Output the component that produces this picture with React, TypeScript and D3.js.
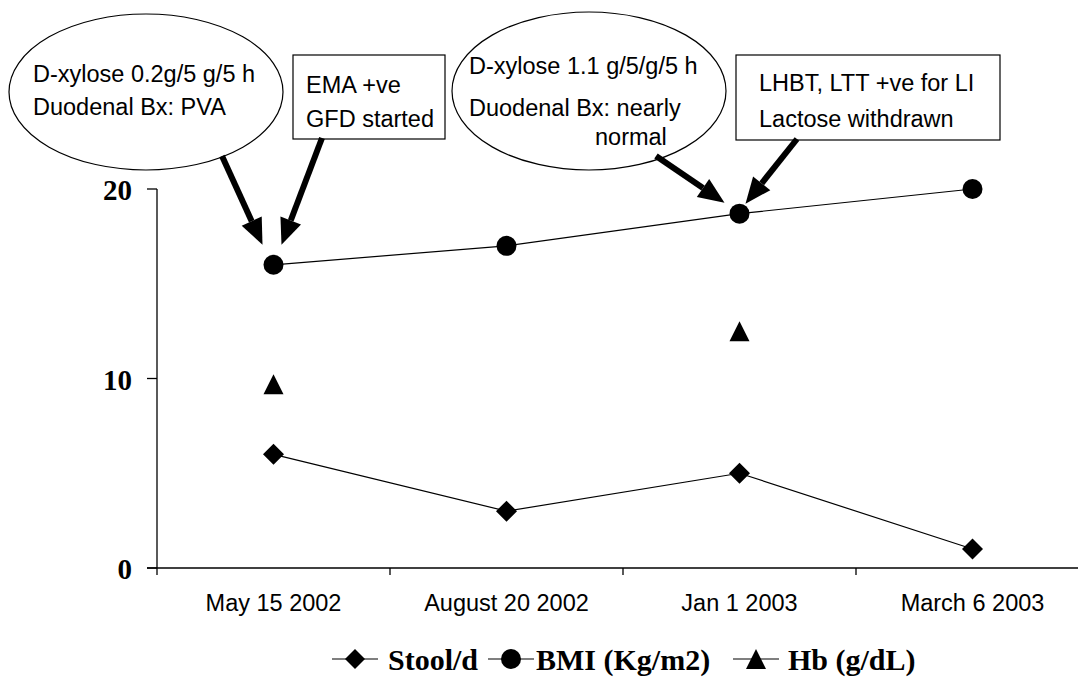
import React from "react";
import * as d3 from "d3";

const categories = ["May 15 2002", "August 20 2002", "Jan 1 2003", "March 6 2003"];
const stool = [6, 3, 5, 1];
const bmi = [16, 17, 18.7, 20];
const hb: (number | null)[] = [9.7, null, 12.5, null];
const yTicks = [0, 10, 20];
const legendLabels = ["Stool/d", "BMI (Kg/m2)", "Hb (g/dL)"];

const W = 1078;
const H = 677;
const SANS = "'Liberation Sans', Arial, sans-serif";
const SERIF = "'Liberation Serif', 'Times New Roman', serif";

function Diamond({ cx, cy, r }: { cx: number; cy: number; r: number }) {
  return <path d={`M${cx},${cy - r}L${cx + r},${cy}L${cx},${cy + r}L${cx - r},${cy}Z`} fill="#000" />;
}
function Tri({ cx, cy, w, h }: { cx: number; cy: number; w: number; h: number }) {
  return <path d={`M${cx},${cy - h / 2}L${cx + w / 2},${cy + h / 2}L${cx - w / 2},${cy + h / 2}Z`} fill="#000" />;
}

function Arrow({ x1, y1, x2, y2 }: { x1: number; y1: number; x2: number; y2: number }) {
  const ang = Math.atan2(y2 - y1, x2 - x1);
  const len = 26;
  const hw = 11;
  const bx = x2 - len * Math.cos(ang);
  const by = y2 - len * Math.sin(ang);
  const px = -Math.sin(ang);
  const py = Math.cos(ang);
  return (
    <g>
      <line x1={x1} y1={y1} x2={bx} y2={by} stroke="#000" strokeWidth={6} />
      <path d={`M${x2},${y2}L${bx + px * hw},${by + py * hw}L${bx - px * hw},${by - py * hw}Z`} fill="#000" />
    </g>
  );
}

export default function App() {
  const x = d3.scaleBand<string>().domain(categories).range([157, 1089]).padding(0);
  const y = d3.scaleLinear().domain([0, 20]).range([568, 189]);
  const cx = (i: number) => (x(categories[i]) as number) + x.bandwidth() / 2;

  const line = d3
    .line<number>()
    .x((_, i) => cx(i))
    .y((d) => y(d));

  const xTickPos = [...categories.map((c) => x(c) as number), x.range()[1]];

  // legend layout
  const legY = 659;
  const legItems = [
    { lx: 332, tx: 388 },
    { lx: 488, tx: 536 },
    { lx: 733, tx: 788 },
  ];

  return (
    <svg width={W} height={H} style={{ position: "absolute", left: 0, top: 0, background: "#fff" }}>
      <rect width={W} height={H} fill="#fff" />
      {/* axes */}
      <line x1={157} y1={y(20)} x2={157} y2={y(0)} stroke="#000" strokeWidth={1.3} />
      <line x1={147} y1={y(0)} x2={W} y2={y(0)} stroke="#000" strokeWidth={1.3} />
      {yTicks.map((t) => (
        <g key={t}>
          <line x1={147} x2={157} y1={y(t)} y2={y(t)} stroke="#000" strokeWidth={1.3} />
          <text x={132} y={y(t) + 11} textAnchor="end" fontFamily={SERIF} fontWeight="bold" fontSize={29}>
            {t}
          </text>
        </g>
      ))}
      {xTickPos.map((p, i) => (
        <line key={i} x1={p} x2={p} y1={y(0)} y2={y(0) + 7} stroke="#000" strokeWidth={1.3} />
      ))}
      {categories.map((c, i) => (
        <text key={c} x={cx(i)} y={611} textAnchor="middle" fontFamily={SANS} fontSize={23.5}>
          {c}
        </text>
      ))}

      {/* series lines */}
      <path d={line(stool) as string} fill="none" stroke="#000" strokeWidth={1.2} />
      <path d={line(bmi) as string} fill="none" stroke="#000" strokeWidth={1.2} />
      {stool.map((v, i) => (
        <Diamond key={"s" + i} cx={cx(i)} cy={y(v)} r={10.5} />
      ))}
      {bmi.map((v, i) => (
        <circle key={"b" + i} cx={cx(i)} cy={y(v)} r={10} fill="#000" />
      ))}
      {hb.map((v, i) =>
        v == null ? null : <Tri key={"h" + i} cx={cx(i)} cy={y(v)} w={20} h={20} />
      )}

      {/* annotations */}
      <ellipse cx={146} cy={92} rx={137} ry={78} fill="#fff" stroke="#000" strokeWidth={1.2} />
      <text x={33} y={82} fontFamily={SANS} fontSize={23.5}>D-xylose 0.2g/5 g/5 h</text>
      <text x={33} y={115} fontFamily={SANS} fontSize={23.5}>Duodenal Bx: PVA</text>

      <rect x={293} y={55} width={152} height={84} fill="#fff" stroke="#000" strokeWidth={1.2} />
      <text x={306} y={93} fontFamily={SANS} fontSize={23.5}>EMA +ve</text>
      <text x={306} y={127} fontFamily={SANS} fontSize={23.5}>GFD started</text>

      <ellipse cx={589} cy={91} rx={137} ry={79} fill="#fff" stroke="#000" strokeWidth={1.2} />
      <text x={469} y={74} fontFamily={SANS} fontSize={23.5}>D-xylose 1.1 g/5/g/5 h</text>
      <text x={469} y={116} fontFamily={SANS} fontSize={23.5}>Duodenal Bx: nearly</text>
      <text x={595} y={145} fontFamily={SANS} fontSize={23.5}>normal</text>

      <rect x={736} y={55} width={264} height={85} fill="#fff" stroke="#000" strokeWidth={1.2} />
      <text x={759} y={91} fontFamily={SANS} fontSize={23.5}>LHBT, LTT +ve for LI</text>
      <text x={759} y={127} fontFamily={SANS} fontSize={23.5}>Lactose withdrawn</text>

      <Arrow x1={222} y1={156} x2={cx(0) - 11} y2={y(bmi[0]) - 20} />
      <Arrow x1={322} y1={138} x2={cx(0) + 8} y2={y(bmi[0]) - 20} />
      <Arrow x1={656} y1={156} x2={cx(2) - 15} y2={y(bmi[2]) - 11} />
      <Arrow x1={797} y1={139} x2={cx(2) + 6} y2={y(bmi[2]) - 10} />

      {/* legend */}
      {legendLabels.map((lab, i) => {
        const it = legItems[i];
        const mx = it.lx + 23;
        return (
          <g key={lab}>
            <line x1={it.lx} x2={it.lx + 46} y1={legY} y2={legY} stroke="#000" strokeWidth={1.2} />
            {i === 0 && <Diamond cx={mx} cy={legY} r={10} />}
            {i === 1 && <circle cx={mx} cy={legY} r={10} fill="#000" />}
            {i === 2 && <Tri cx={mx} cy={legY} w={20} h={20} />}
            <text x={it.tx} y={legY + 11} fontFamily={SERIF} fontWeight="bold" fontSize={30}>
              {lab}
            </text>
          </g>
        );
      })}
    </svg>
  );
}
